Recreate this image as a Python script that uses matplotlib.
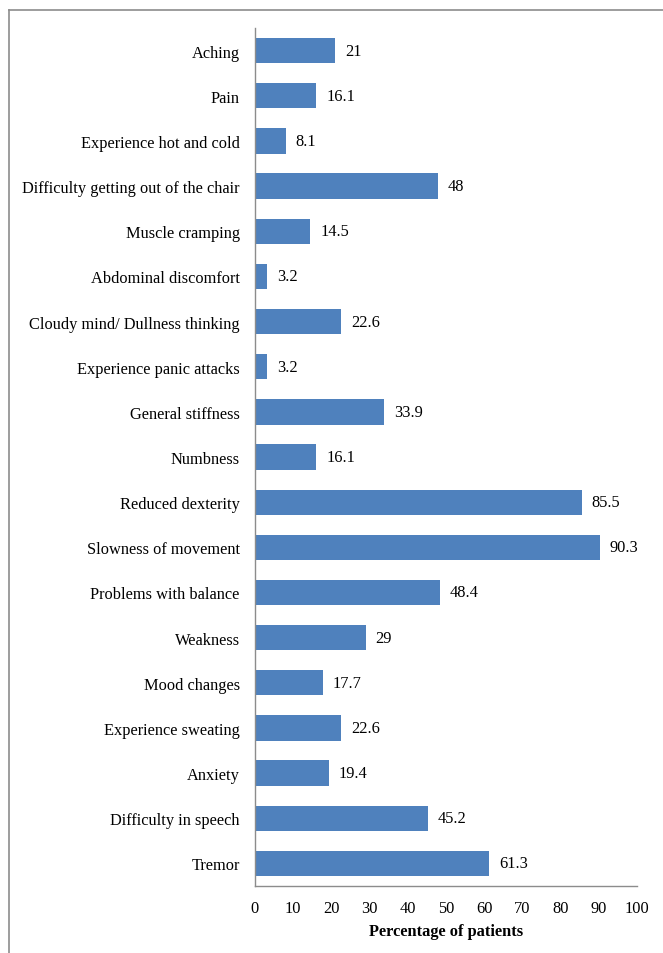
import matplotlib.pyplot as plt
from matplotlib.lines import Line2D

# Dane (od góry do dołu)
symptoms = [
    "Aching", "Pain", "Experience hot and cold",
    "Difficulty getting out of the chair", "Muscle cramping",
    "Abdominal discomfort", "Cloudy mind/ Dullness thinking",
    "Experience panic attacks", "General stiffness", "Numbness",
    "Reduced dexterity", "Slowness of movement", "Problems with balance",
    "Weakness", "Mood changes", "Experience sweating", "Anxiety",
    "Difficulty in speech", "Tremor",
]
percentages = [21, 16.1, 8.1, 48, 14.5, 3.2, 22.6, 3.2, 33.9, 16.1,
               85.5, 90.3, 48.4, 29, 17.7, 22.6, 19.4, 45.2, 61.3]
value_labels = ["21", "16.1", "8.1", "48", "14.5", "3.2", "22.6", "3.2", "33.9",
                "16.1", "85.5", "90.3", "48.4", "29", "17.7", "22.6", "19.4",
                "45.2", "61.3"]
xticks = list(range(0, 101, 10))

plt.rcParams['font.family'] = ['Liberation Serif', 'DejaVu Serif']
fs = 11.8

fig = plt.figure(figsize=(6.63, 9.54), dpi=100)
ax = fig.add_axes([0.3846, 0.0702, 0.9608 - 0.3846, 0.9696 - 0.0702])

positions = list(range(len(symptoms)))
bars = ax.barh(positions, percentages, height=0.56, color='#4F81BD')
ax.bar_label(bars, labels=value_labels, padding=7, fontsize=fs)

ax.set_ylim(len(symptoms) - 0.5, -0.5)
ax.set_yticks(positions)
ax.set_yticklabels(symptoms, fontsize=fs)
ax.set_xlim(0, 100)
ax.set_xticks(xticks)
ax.set_xticklabels([str(t) for t in xticks], fontsize=fs)
ax.tick_params(axis='y', length=0, pad=11)
ax.tick_params(axis='x', length=0, pad=10)
ax.set_xlabel('Percentage of patients', fontsize=fs, fontweight='bold', labelpad=5)

for side in ['top', 'right']:
    ax.spines[side].set_visible(False)
for side in ['left', 'bottom']:
    ax.spines[side].set_color('#8c8c8c')
    ax.spines[side].set_linewidth(1)

# Ramka wokół wykresu (lewa i górna krawędź)
x0 = 8.5 / 663
y0 = 1 - 10.5 / 954
fig.add_artist(Line2D([x0, 1], [y0, y0], transform=fig.transFigure, color='#8c8c8c', lw=1.2))
fig.add_artist(Line2D([x0, x0], [0, y0], transform=fig.transFigure, color='#8c8c8c', lw=1.2))

fig.savefig('out.png', dpi=100)
